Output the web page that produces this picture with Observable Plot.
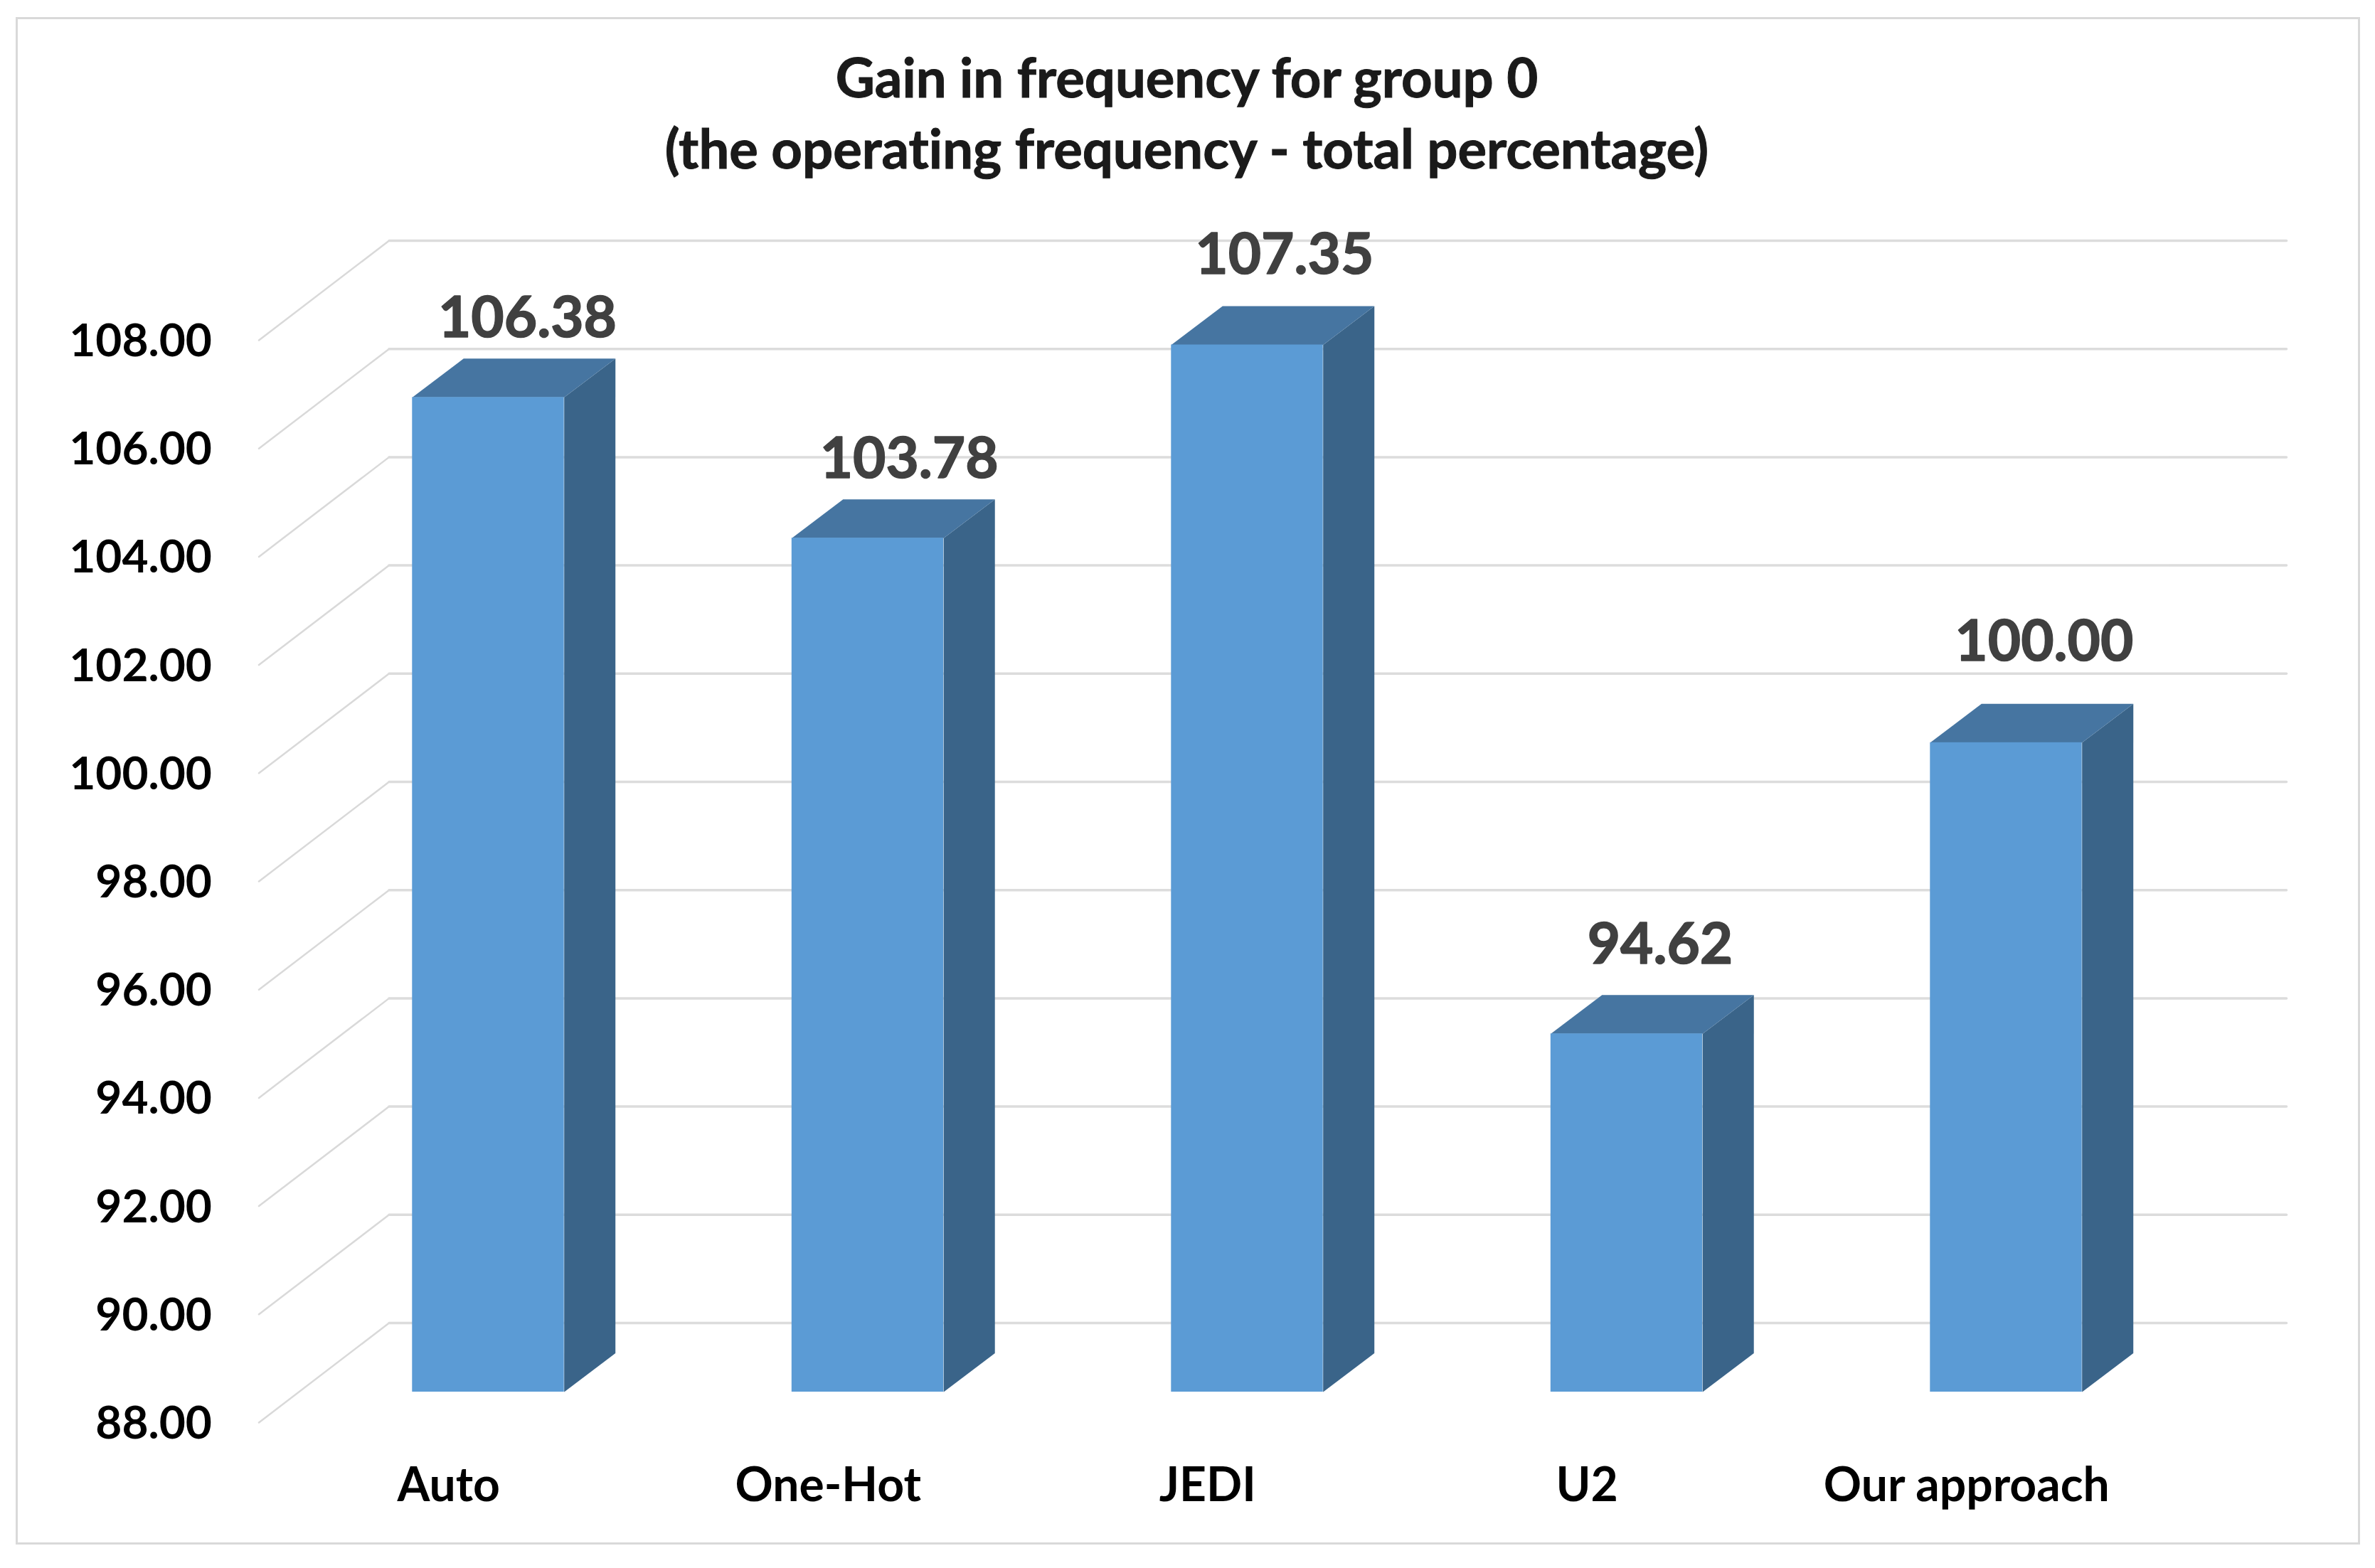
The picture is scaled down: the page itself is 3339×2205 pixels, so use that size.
<!DOCTYPE html>
<html>
<head>
<meta charset="utf-8">
<script src="https://cdn.jsdelivr.net/npm/d3@7"></script>
<script src="https://cdn.jsdelivr.net/npm/@observablehq/plot@0.6"></script>
<style>
  html, body { margin: 0; padding: 0; background: #fff; }
  #page { position: relative; width: 3339px; height: 2205px; overflow: hidden; background: #fff; }
  #frame { position: absolute; left: 22px; top: 24px; width: 3290px; height: 2142px; border: 3px solid #d9d9d9; pointer-events: none; }
  #title { height: 300px; box-sizing: border-box; padding-top: 58px; text-align: center; font: 700 76px/100px Lato, sans-serif; font-variant-ligatures: none; color: #1a1a1a; -webkit-text-stroke: 1px #1a1a1a; }
  #title div { position: relative; left: -1px; }
  svg { display: block; font-variant-ligatures: none; }
</style>
</head>
<body>
<div id="page">
  <div id="frame"></div>
  <div id="title"><div>Gain in frequency for group 0</div><div>(the operating frequency - total percentage)</div></div>
  <div id="chart"></div>
</div>
<script>
const titleHeight = 300;
const categories = ["Auto", "One-Hot", "JEDI", "U2", "Our approach"];
const values = [106.38, 103.78, 107.35, 94.62, 100.00];
const yTicks = [88, 90, 92, 94, 96, 98, 100, 102, 104, 106, 108];
const labelLift = [1.45, 1.45, 1.65, 1.63, 1.85];
const labelShift = [0.103, 0.109, 0.098, 0.088, 0.100];

// Oblique-depth offsets, in data units (slots on x, value units on y)
const wallDx = 0.343, wallDy = 1.84;
const barShift = 0.1045, barHalf = 0.2, barBase = 0.565, barDx = 0.135, barDy = 0.716;

const bars = categories.map((name, i) => ({
  name, i, value: values[i],
  left: i + barShift - barHalf,
  right: i + barShift + barHalf,
  bottom: 88 + barBase,
  top: values[i] + barBase
}));

const topFace = bars.flatMap(b => [
  {name: b.name, x: b.left, y: b.top},
  {name: b.name, x: b.right, y: b.top},
  {name: b.name, x: b.right + barDx, y: b.top + barDy},
  {name: b.name, x: b.left + barDx, y: b.top + barDy}
]);
const sideFace = bars.flatMap(b => [
  {name: b.name, x: b.right, y: b.bottom},
  {name: b.name, x: b.right + barDx, y: b.bottom + barDy},
  {name: b.name, x: b.right + barDx, y: b.top + barDy},
  {name: b.name, x: b.right, y: b.top}
]);
const wallSide = yTicks.flatMap(v => [
  {v, x: -0.5, y: v},
  {v, x: -0.5 + wallDx, y: v + wallDy}
]);
const wallBack = yTicks.flatMap(v => [
  {v, x: -0.5 + wallDx, y: v + wallDy},
  {v, x: 4.5 + wallDx, y: v + wallDy}
]);

const font = "Lato, sans-serif";
const plot = Plot.plot({
  width: 3339,
  height: 2205 - titleHeight,
  marginLeft: 363.5,
  marginRight: 308,
  marginTop: 478 - titleHeight,
  marginBottom: 205,
  style: {fontFamily: font, background: "transparent", overflow: "visible"},
  x: {domain: [-0.5, 4.5]},
  y: {domain: [88, 108]},
  marks: [
    Plot.line(wallSide, {x: "x", y: "y", z: "v", stroke: "#d9d9d9", strokeWidth: 2.5}),
    Plot.line(wallBack, {x: "x", y: "y", z: "v", stroke: "#dcdcdc", strokeWidth: 3.5}),
    Plot.line(sideFace, {x: "x", y: "y", z: "name", fill: "#3a6489", stroke: "none"}),
    Plot.line(topFace, {x: "x", y: "y", z: "name", fill: "#4675a1", stroke: "none"}),
    Plot.rect(bars, {x1: "left", x2: "right", y1: "bottom", y2: "top", fill: "#5b9bd5"}),
    Plot.text(bars, {
      x: (b, i) => b.i + barShift + labelShift[i],
      y: (b, i) => b.top + labelLift[i],
      text: b => d3.format(".2f")(b.value),
      fontSize: 80, fontWeight: 700, fill: "#404040", stroke: "#404040", strokeWidth: 1.5, lineAnchor: "middle"
    }),
    Plot.axisY({
      ticks: yTicks, tickSize: 0, tickPadding: 66, label: null, dy: 2,
      tickFormat: d3.format(".2f"), fontSize: 64, fontWeight: 700, fill: "#000"
    }),
    Plot.axisX({
      ticks: d3.range(categories.length), tickSize: 0, tickPadding: 64, label: null,
      tickFormat: i => categories[i], fontSize: 66, fontWeight: 700, fill: "#000"
    })
  ]
});
document.getElementById("chart").appendChild(plot);
</script>
</body>
</html>
